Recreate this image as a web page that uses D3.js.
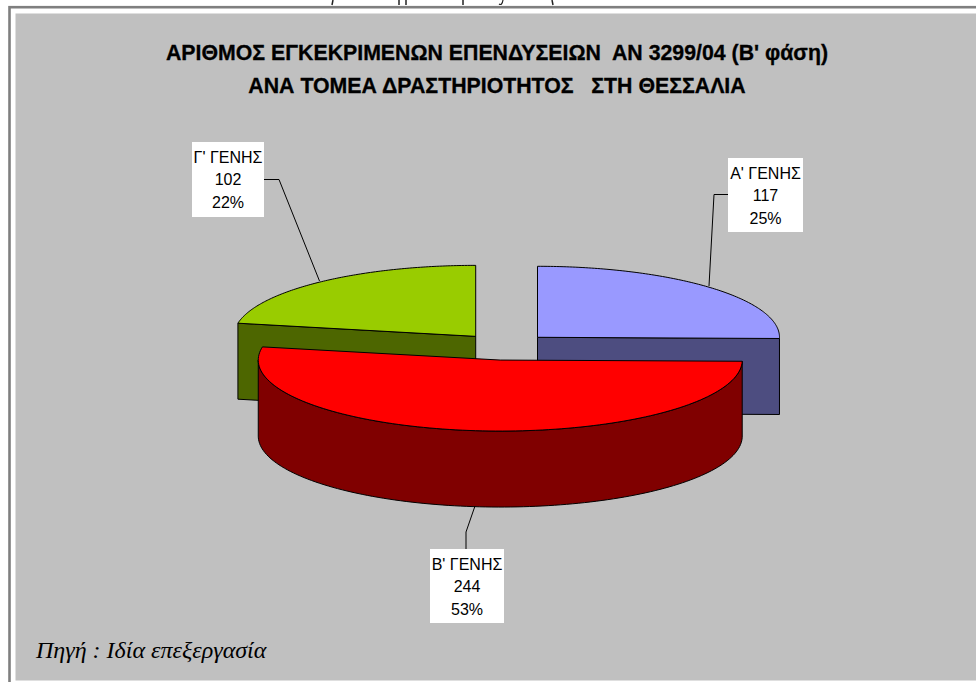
<!DOCTYPE html>
<html>
<head>
<meta charset="utf-8">
<script src="https://cdn.jsdelivr.net/npm/d3@7"></script>
<style>
  html, body { margin: 0; padding: 0; background: #fff; overflow: hidden; }
  svg { display: block; }
</style>
</head>
<body>
<script>
// data
var categories = ["Α' ΓΕΝΗΣ", "Β' ΓΕΝΗΣ", "Γ' ΓΕΝΗΣ"]
var values = [117, 244, 102]
var percents = ['25%', '53%', '22%']
var topColors = ['#9999ff', '#ff0000', '#99cc00']
var sideColors = ['#4d4d80', '#800000', '#4d6600']
var titleLines = ["ΑΡΙΘΜΟΣ ΕΓΚΕΚΡΙΜΕΝΩΝ ΕΠΕΝΔΥΣΕΙΩΝ  ΑΝ 3299/04 (Β' φάση)", 'ΑΝΑ ΤΟΜΕΑ ΔΡΑΣΤΗΡΙΟΤΗΤΟΣ   ΣΤΗ ΘΕΣΣΑΛΙΑ']
var sourceText = 'Πηγή : Ιδία επεξεργασία'

// variables:
var w = 976
var h = 682
var cx0 = 504.9
var cy0 = 346.7
var rx = 242
var ry = 71
var depth = 76
var explode = 0.189

var svg = d3.select('body')
  .append('svg')
  .attr('width', w)
  .attr('height', h)

// descenders of the page text cut off above the frame
var cutMarks = [[333, 332], [399, 399], [406, 406], [463, 463], [552, 553]]
cutMarks.forEach(function (m) {
  svg.append('path')
    .attr('d', d3.line()([[m[0], 0], [m[1], 5]]))
    .attr('stroke', '#222')
    .attr('stroke-width', 1.5)
})
svg.append('path')
  .attr('d', 'M499,4Q502,6 503,0')
  .attr('fill', 'none')
  .attr('stroke', '#222')
  .attr('stroke-width', 1.2)

// frame, no bottom line, the picture is cut there
svg.append('rect').attr('x', 9.5).attr('y', 7.2).attr('width', w).attr('height', h)
  .attr('fill', '#fff').attr('stroke', '#7f7f7f').attr('stroke-width', 2.6)
svg.append('rect').attr('x', 15.5).attr('y', 13.5).attr('width', w).attr('height', 667)
  .attr('fill', '#c0c0c0')

var pie = d3.pie().sort(null).value(function (d) { return d })
var slices = pie(values)

// helper functions:
var sliceCenter = function (s) {
  var mid = (s.startAngle + s.endAngle) / 2
  return [cx0 + explode * rx * Math.sin(mid), cy0 - explode * ry * Math.cos(mid)]
}
var onRim = function (c, t) {
  return [c[0] + rx * Math.sin(t), c[1] - ry * Math.cos(t)]
}
var rim = function (c, t0, t1) {
  return d3.range(0, 121).map(function (i) {
    return onRim(c, t0 + (t1 - t0) * i / 120)
  })
}
var down = function (p) { return [p[0], p[1] + depth] }
var line = d3.line()

// the side that faces the viewer
var sidePoints = function (s, i) {
  var c = sliceCenter(s)
  if (i === 1) {
    // outer wall, only the front half of the rim shows
    var front = rim(c, s.startAngle, Math.PI * 1.5)
    return front.concat(front.slice().reverse().map(down))
  }
  // cut face running from the centre out to the rim
  var t = i === 0 ? s.endAngle : s.startAngle
  var edge = [c, onRim(c, t)]
  return edge.concat(edge.slice().reverse().map(down))
}
var topPoints = function (s) {
  var c = sliceCenter(s)
  return [c].concat(rim(c, s.startAngle, s.endAngle))
}

// back slices first, red one sits in front of them
var order = [2, 0, 1]
order.forEach(function (i) {
  var g = svg.append('g')
  g.append('path')
    .attr('d', line(sidePoints(slices[i], i)) + 'Z')
    .attr('fill', sideColors[i])
    .attr('stroke', '#000')
    .attr('stroke-linejoin', 'round')
  g.append('path')
    .attr('d', line(topPoints(slices[i])) + 'Z')
    .attr('fill', topColors[i])
    .attr('stroke', '#000')
    .attr('stroke-linejoin', 'round')
})

// titles
svg.selectAll('text.title')
  .data(titleLines)
  .enter()
  .append('text')
  .attr('class', 'title')
  .attr('x', 497)
  .attr('y', function (d, i) { return 60 + i * 33 })
  .attr('text-anchor', 'middle')
  .attr('font-family', 'Liberation Sans')
  .attr('font-weight', 'bold')
  .attr('font-size', '21.3px')
  .attr('fill', '#000')
  .attr('stroke', '#000')
  .attr('stroke-width', 0.3)
  .style('white-space', 'pre')
  .text(function (d) { return d })

// data labels
var labelBoxes = [[728, 158, 75, 74], [430, 549, 74, 74], [192, 142, 72, 75]]
var leaders = [
  [[728, 194.5], [714, 194.5], [709, 286]],
  [[466, 549], [466, 532], [475, 506]],
  [[264, 179.5], [279, 179.5], [319.5, 281]]
]
categories.forEach(function (name, i) {
  var b = labelBoxes[i]
  svg.append('path')
    .attr('d', line(leaders[i]))
    .attr('fill', 'none')
    .attr('stroke', '#000')
  svg.append('rect')
    .attr('x', b[0]).attr('y', b[1])
    .attr('width', b[2]).attr('height', b[3])
    .attr('fill', '#fff')
  var rows = [name, values[i], percents[i]]
  rows.forEach(function (row, j) {
    svg.append('text')
      .attr('x', b[0] + b[2] / 2)
      .attr('y', b[1] + 20.5 + j * 22.5)
      .attr('text-anchor', 'middle')
      .attr('font-family', 'Liberation Sans')
      .attr('font-size', '16px')
      .attr('fill', '#000')
      .text(row)
  })
})

// source note
svg.append('text')
  .attr('x', 36)
  .attr('y', 658)
  .attr('font-family', 'Liberation Serif')
  .attr('font-style', 'italic')
  .attr('font-size', '24px')
  .attr('fill', '#000')
  .text(sourceText)
</script>
</body>
</html>
